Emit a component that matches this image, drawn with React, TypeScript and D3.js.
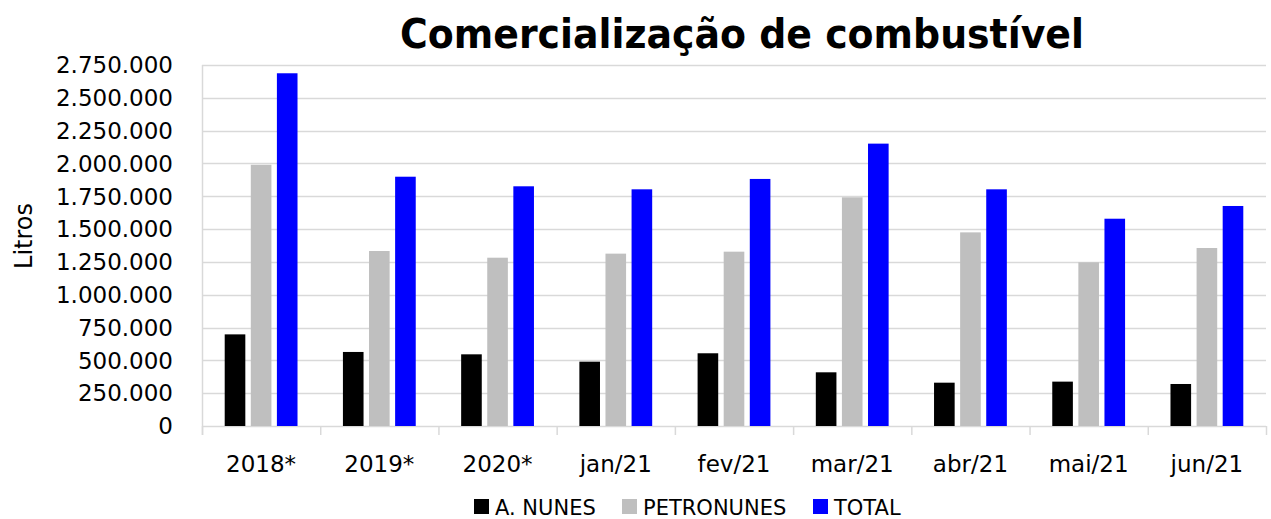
import React, { useRef, useEffect } from "react";
import * as d3 from "d3";

const categories = ["2018*", "2019*", "2020*", "jan/21", "fev/21", "mar/21", "abr/21", "mai/21", "jun/21"];
const seriesNames = ["A. NUNES", "PETRONUNES", "TOTAL"];
const aNunes = [698000, 564000, 546000, 490000, 554000, 409000, 330000, 338000, 320000];
const petronunes = [1990000, 1333000, 1282000, 1313000, 1328000, 1742000, 1475000, 1247000, 1356000];
const total = [2687000, 1899000, 1826000, 1803000, 1882000, 2151000, 1803000, 1579000, 1676000];
const yTicks = [0, 250000, 500000, 750000, 1000000, 1250000, 1500000, 1750000, 2000000, 2250000, 2500000, 2750000];
const colors = ["#000000", "#bfbfbf", "#0000ff"];

const W = 1271;
const H = 519;
const FONT = "'DejaVu Sans', sans-serif";

export default function App() {
  const svgRef = useRef<SVGSVGElement>(null);

  useEffect(() => {
    const svg = d3.select(svgRef.current);
    svg.selectAll("*").remove();

    const margin = { top: 65, bottom: 93, left: 202, right: 5 };
    const innerHeight = H - margin.top - margin.bottom;

    const values = [aNunes, petronunes, total];
    const rows = categories.map((c, i) => ({
      cat: c,
      vals: seriesNames.map((s, k) => ({ name: s, value: values[k][i], color: colors[k] })),
    }));

    const x = d3.scaleBand().domain(categories).range([margin.left, W - margin.right]).padding(0);
    const xInner = d3
      .scaleBand()
      .domain(seriesNames)
      .range([0, x.bandwidth()])
      .paddingInner(0.21)
      .paddingOuter(0.87);
    const y = d3.scaleLinear().domain([0, 2750000]).range([margin.top + innerHeight, margin.top]);

    const fmt = d3.formatLocale({ decimal: ",", thousands: ".", grouping: [3], currency: ["", ""] }).format(",d");

    // gridlines
    svg
      .append("g")
      .selectAll("line")
      .data(yTicks)
      .join("line")
      .attr("x1", margin.left)
      .attr("x2", W - margin.right)
      .attr("y1", (d) => Math.round(y(d)) + 0.5)
      .attr("y2", (d) => Math.round(y(d)) + 0.5)
      .attr("stroke", "#d9d9d9")
      .attr("stroke-width", 1.5);

    // left axis line
    svg
      .append("line")
      .attr("x1", margin.left + 0.5)
      .attr("x2", margin.left + 0.5)
      .attr("y1", margin.top)
      .attr("y2", y(0) + 9)
      .attr("stroke", "#d9d9d9")
      .attr("stroke-width", 1.5);

    // x ticks at category boundaries
    const bounds = categories.map((c) => x(c) as number).concat([W - margin.right]);
    svg
      .append("g")
      .selectAll("line")
      .data(bounds)
      .join("line")
      .attr("x1", (d) => d + 0.5)
      .attr("x2", (d) => d + 0.5)
      .attr("y1", y(0))
      .attr("y2", y(0) + 9)
      .attr("stroke", "#d9d9d9")
      .attr("stroke-width", 1.5);

    // y tick labels
    svg
      .append("g")
      .selectAll("text")
      .data(yTicks)
      .join("text")
      .attr("x", 173)
      .attr("y", (d) => y(d))
      .attr("dy", "0.36em")
      .attr("text-anchor", "end")
      .attr("font-family", FONT)
      .attr("font-size", 23)
      .attr("fill", "#000")
      .text((d) => fmt(d));

    // bars
    const groups = svg
      .append("g")
      .selectAll("g")
      .data(rows)
      .join("g")
      .attr("transform", (d) => `translate(${x(d.cat)},0)`);
    groups
      .selectAll("rect")
      .data((d) => d.vals)
      .join("rect")
      .attr("x", (d) => xInner(d.name) as number)
      .attr("width", xInner.bandwidth())
      .attr("y", (d) => y(d.value))
      .attr("height", (d) => y(0) - y(d.value))
      .attr("fill", (d) => d.color);

    // x labels
    svg
      .append("g")
      .selectAll("text")
      .data(categories)
      .join("text")
      .attr("x", (d) => (x(d) as number) + x.bandwidth() / 2)
      .attr("y", 472)
      .attr("text-anchor", "middle")
      .attr("font-family", FONT)
      .attr("font-size", 23)
      .text((d) => d);

    // title
    svg
      .append("text")
      .attr("x", 742)
      .attr("y", 48)
      .attr("text-anchor", "middle")
      .attr("font-family", FONT)
      .attr("font-weight", "bold")
      .attr("font-size", 40)
      .attr("textLength", 684)
      .attr("lengthAdjust", "spacingAndGlyphs")
      .text("Comercialização de combustível");

    // y axis title
    svg
      .append("text")
      .attr("transform", `translate(32,236) rotate(-90)`)
      .attr("text-anchor", "middle")
      .attr("font-family", FONT)
      .attr("font-size", 24)
      .text("Litros");

    // legend
    const legendX = [474, 622, 813];
    const legend = svg
      .append("g")
      .selectAll("g")
      .data(seriesNames)
      .join("g")
      .attr("transform", (d, i) => `translate(${legendX[i]},499)`);
    legend
      .append("rect")
      .attr("width", 15)
      .attr("height", 15)
      .attr("fill", (d, i) => colors[i]);
    legend
      .append("text")
      .attr("x", 21)
      .attr("y", 15.5)
      .attr("font-family", FONT)
      .attr("font-size", 21)
      .text((d) => d);
  }, []);

  return (
    <svg
      ref={svgRef}
      width={W}
      height={H}
      style={{ position: "absolute", left: 0, top: 0, background: "#fff" }}
    />
  );
}
